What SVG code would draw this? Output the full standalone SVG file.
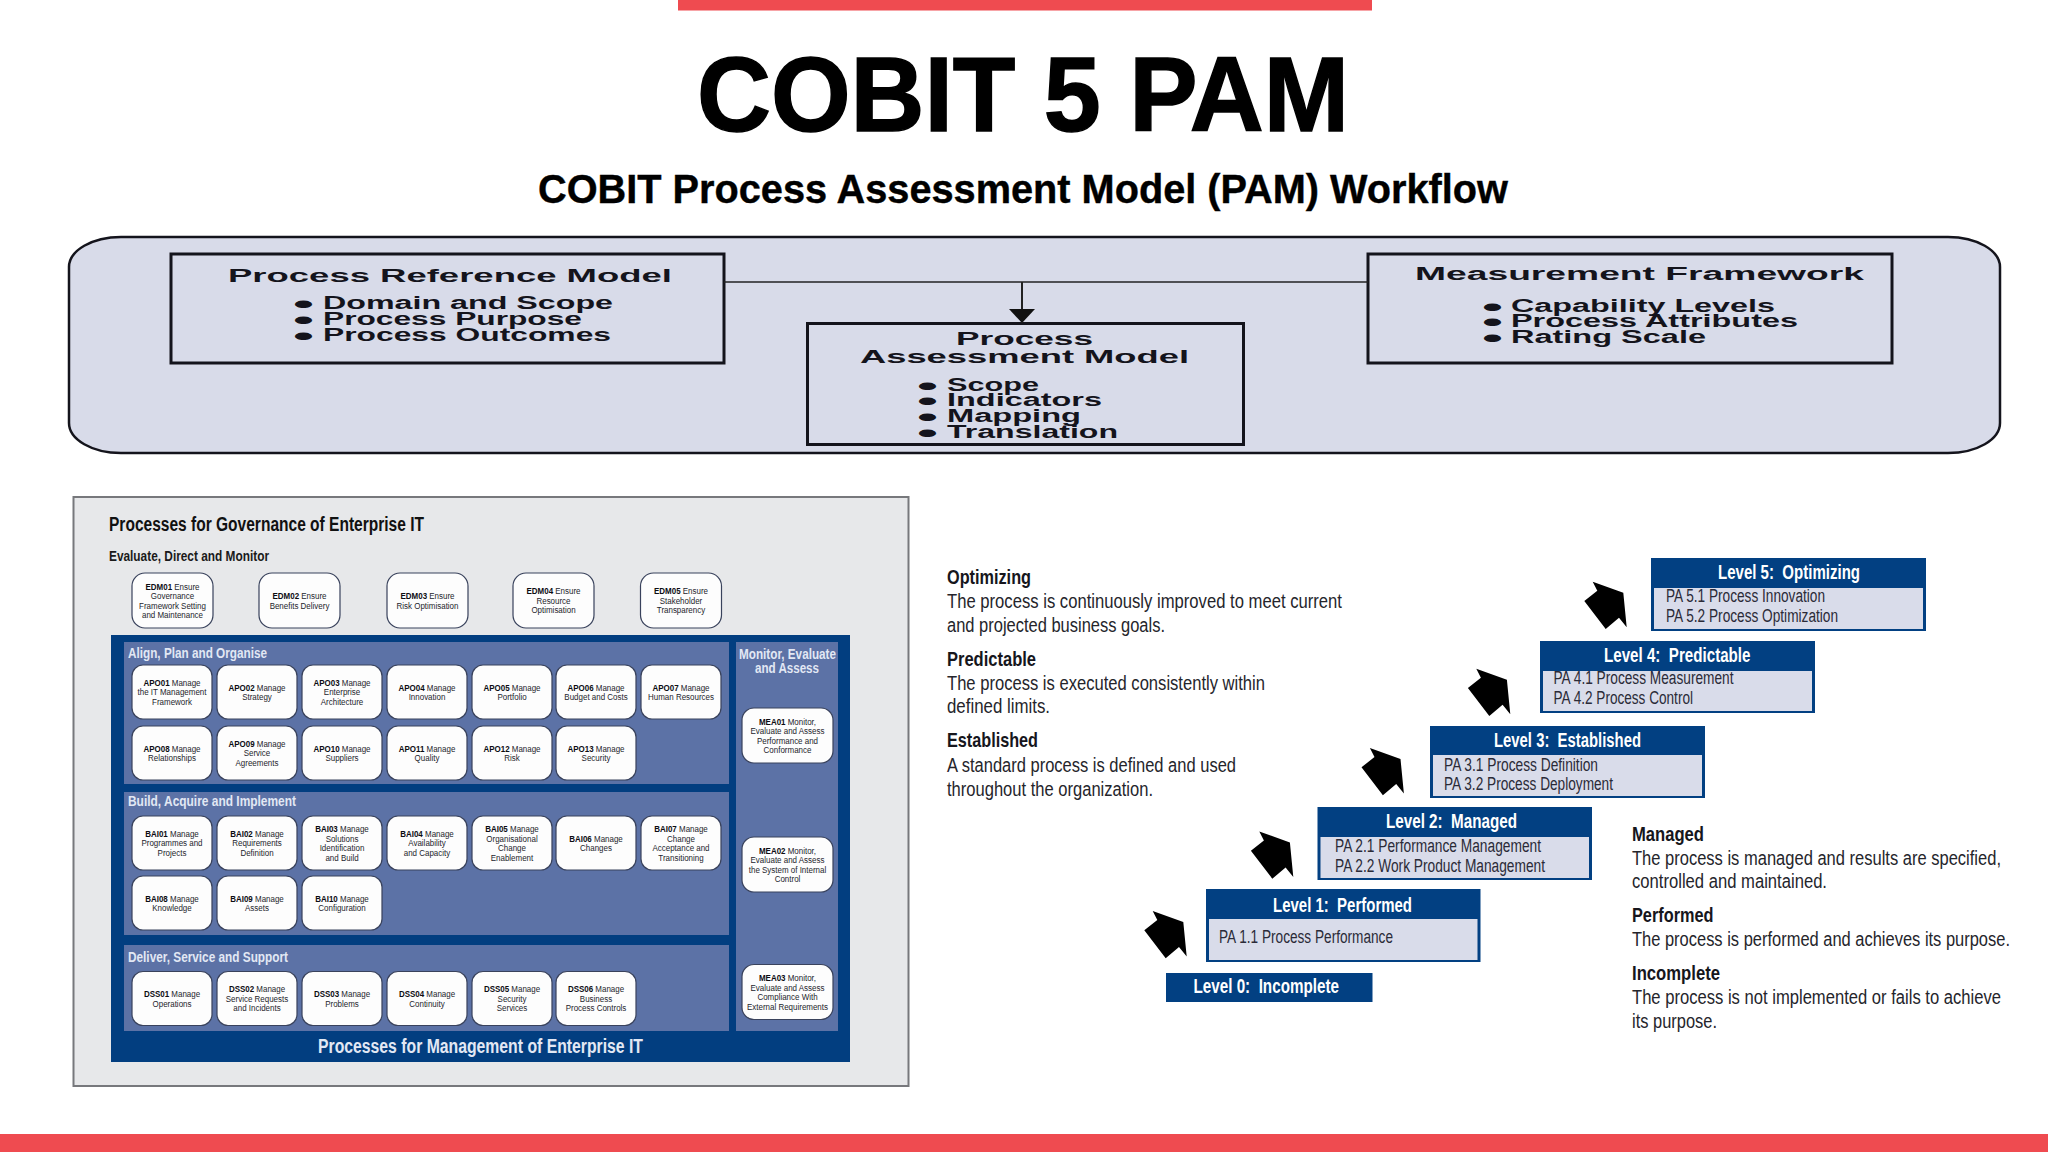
<svg xmlns="http://www.w3.org/2000/svg" width="2048" height="1152" viewBox="0 0 2048 1152">
<style>
text{font-family:"Liberation Sans",Arial,sans-serif}
.bar{fill:#ef4b50}
.h{font-weight:700;fill:#000;stroke:#000}
.m{font-weight:700;fill:#14141c;font-size:17.5px}
.bu{font-weight:700;fill:#14141c;font-size:26px}
.frame{fill:none;stroke:#14141c;stroke-width:3}
.card{fill:#fdfdfd;stroke:#39425c;stroke-width:1.2}
.s{font-size:9.6px;fill:#24252c;text-anchor:middle;transform:scaleX(.83)}
.s tspan.k{font-weight:700;fill:#0c0c12}
.sec{fill:#5c72a6}
.st{font-weight:700;fill:#e2e8f4}
.lv{fill:#024082}
.lvi{fill:#d9dcea}
.lt{font-weight:700;fill:#fff;font-size:19.5px}
.pa{fill:#2b2b38;font-size:18px}
.dh{font-weight:700;fill:#16161c;font-size:20.5px}
.db{fill:#25252b;font-size:20px}
</style>
<defs>
<marker id="ah" markerUnits="userSpaceOnUse" markerWidth="14" markerHeight="26" refX="14" refY="13" orient="auto" viewBox="0 0 14 26"><path d="M0 0L14 13L0 26Z" fill="#111"/></marker>
<polygon id="blk" points="0,0 30.6,11 34,45.6 26.3,36 13,47.3 -8.4,19.3 4.6,9" fill="#000"/>
</defs>
<rect width="2048" height="1152" fill="#fff"/>
<rect class="bar" x="678" y="0" width="694" height="10.5"/>
<rect class="bar" x="0" y="1134" width="2048" height="18"/>
<text class="h" x="697" y="130.5" font-size="106" stroke-width="1.5" textLength="652" lengthAdjust="spacingAndGlyphs">COBIT 5 PAM</text>
<text class="h" x="538" y="203" font-size="41" stroke-width=".4" textLength="970" lengthAdjust="spacingAndGlyphs">COBIT Process Assessment Model (PAM) Workflow</text>

<g id="model-panel"><rect x="69" y="237" width="1931" height="216" rx="52" ry="30" fill="#d8dbe9" stroke="#14141c" stroke-width="2.5"/></g>
<g id="process-reference-model">
<rect class="frame" x="171" y="254" width="553" height="109"/>
<text class="m" x="228" y="282" textLength="444" lengthAdjust="spacingAndGlyphs">Process Reference Model</text>
<text class="bu" x="293" y="313.3" textLength="21" lengthAdjust="spacingAndGlyphs">•</text><text class="m" x="323" y="309" textLength="290" lengthAdjust="spacingAndGlyphs">Domain and Scope</text>
<text class="bu" x="293" y="329.3" textLength="21" lengthAdjust="spacingAndGlyphs">•</text><text class="m" x="323" y="325" textLength="259" lengthAdjust="spacingAndGlyphs">Process Purpose</text>
<text class="bu" x="293" y="345.3" textLength="21" lengthAdjust="spacingAndGlyphs">•</text><text class="m" x="323" y="341" textLength="288" lengthAdjust="spacingAndGlyphs">Process Outcomes</text>
</g>
<g id="process-assessment-model">
<rect class="frame" x="807.5" y="323.5" width="436" height="121"/>
<text class="m" x="956" y="345" textLength="137" lengthAdjust="spacingAndGlyphs">Process</text>
<text class="m" x="860" y="363" textLength="329" lengthAdjust="spacingAndGlyphs">Assessment Model</text>
<text class="bu" x="917" y="395.3" textLength="21" lengthAdjust="spacingAndGlyphs">•</text><text class="m" x="947" y="391" textLength="92" lengthAdjust="spacingAndGlyphs">Scope</text>
<text class="bu" x="917" y="410.3" textLength="21" lengthAdjust="spacingAndGlyphs">•</text><text class="m" x="947" y="406" textLength="155" lengthAdjust="spacingAndGlyphs">Indicators</text>
<text class="bu" x="917" y="426.3" textLength="21" lengthAdjust="spacingAndGlyphs">•</text><text class="m" x="947" y="422" textLength="134" lengthAdjust="spacingAndGlyphs">Mapping</text>
<text class="bu" x="917" y="442.3" textLength="21" lengthAdjust="spacingAndGlyphs">•</text><text class="m" x="947" y="438" textLength="171" lengthAdjust="spacingAndGlyphs">Translation</text>
</g>
<g id="measurement-framework">
<rect class="frame" x="1368" y="254" width="524" height="109"/>
<text class="m" x="1415" y="280" textLength="449" lengthAdjust="spacingAndGlyphs">Measurement Framework</text>
<text class="bu" x="1482" y="316.3" textLength="21" lengthAdjust="spacingAndGlyphs">•</text><text class="m" x="1511" y="312" textLength="264" lengthAdjust="spacingAndGlyphs">Capability Levels</text>
<text class="bu" x="1482" y="331.3" textLength="21" lengthAdjust="spacingAndGlyphs">•</text><text class="m" x="1511" y="327" textLength="287" lengthAdjust="spacingAndGlyphs">Process Attributes</text>
<text class="bu" x="1482" y="347.3" textLength="21" lengthAdjust="spacingAndGlyphs">•</text><text class="m" x="1511" y="343" textLength="195" lengthAdjust="spacingAndGlyphs">Rating Scale</text>
</g>
<g id="connectors" fill="none" stroke="#222" stroke-width="1.5">
<path d="M724 282H1368"/>
<path d="M1022 282V323" stroke-width="2" marker-end="url(#ah)"/>
<use href="#blk" x="1592.7" y="581.7" stroke="none"/>
<use href="#blk" x="1476.3" y="668.7" stroke="none"/>
<use href="#blk" x="1369.9" y="748" stroke="none"/>
<use href="#blk" x="1259.3" y="831.4" stroke="none"/>
<use href="#blk" x="1152.7" y="911" stroke="none"/>
</g>

<g id="governance-panel">
<rect x="73.5" y="497" width="835" height="589" fill="#e7e8ea" stroke="#77787c" stroke-width="2"/>
<text x="109" y="531" font-size="20" font-weight="700" fill="#111" textLength="315" lengthAdjust="spacingAndGlyphs">Processes for Governance of Enterprise IT</text>
<text x="109" y="561" font-size="14.5" font-weight="700" fill="#1a1a1a" textLength="160" lengthAdjust="spacingAndGlyphs">Evaluate, Direct and Monitor</text>
<rect x="111" y="635" width="739" height="427" fill="#023e80"/>
<text class="st" x="318" y="1053" font-size="20" textLength="325" lengthAdjust="spacingAndGlyphs">Processes for Management of Enterprise IT</text>
</g>
<g id="align-plan-organise"><rect class="sec" x="124" y="642" width="605" height="142"/><text class="st" x="128" y="658" font-size="14" textLength="139" lengthAdjust="spacingAndGlyphs">Align, Plan and Organise</text></g>
<g id="build-acquire-implement"><rect class="sec" x="124" y="792" width="605" height="143"/><text class="st" x="128" y="806" font-size="14" textLength="168" lengthAdjust="spacingAndGlyphs">Build, Acquire and Implement</text></g>
<g id="deliver-service-support"><rect class="sec" x="124" y="945" width="605" height="86"/><text class="st" x="128" y="962" font-size="14" textLength="160" lengthAdjust="spacingAndGlyphs">Deliver, Service and Support</text></g>
<g id="monitor-evaluate-assess"><rect class="sec" x="736" y="642" width="102" height="389"/><text class="st" x="739" y="659" font-size="14.5" textLength="97" lengthAdjust="spacingAndGlyphs">Monitor, Evaluate</text><text class="st" x="755" y="673" font-size="14.5" textLength="64" lengthAdjust="spacingAndGlyphs">and Assess</text></g>

<g id="EDM01" transform="translate(172.5 600.5)"><rect class="card" x="-40.5" y="-27.5" width="81" height="55" rx="13"/><text class="s" y="-11"><tspan class="k">EDM01</tspan> Ensure</text><text class="s" y="-1.4">Governance</text><text class="s" y="8.2">Framework Setting</text><text class="s" y="17.8">and Maintenance</text></g>
<g id="EDM02" transform="translate(299.5 600.5)"><rect class="card" x="-40.5" y="-27.5" width="81" height="55" rx="13"/><text class="s" y="-1.4"><tspan class="k">EDM02</tspan> Ensure</text><text class="s" y="8.2">Benefits Delivery</text></g>
<g id="EDM03" transform="translate(427.5 600.5)"><rect class="card" x="-40.5" y="-27.5" width="81" height="55" rx="13"/><text class="s" y="-1.4"><tspan class="k">EDM03</tspan> Ensure</text><text class="s" y="8.2">Risk Optimisation</text></g>
<g id="EDM04" transform="translate(553.5 600.5)"><rect class="card" x="-40.5" y="-27.5" width="81" height="55" rx="13"/><text class="s" y="-6.2"><tspan class="k">EDM04</tspan> Ensure</text><text class="s" y="3.4">Resource</text><text class="s" y="13">Optimisation</text></g>
<g id="EDM05" transform="translate(681 600.5)"><rect class="card" x="-40.5" y="-27.5" width="81" height="55" rx="13"/><text class="s" y="-6.2"><tspan class="k">EDM05</tspan> Ensure</text><text class="s" y="3.4">Stakeholder</text><text class="s" y="13">Transparency</text></g>

<g id="APO01" transform="translate(172 692)"><rect class="card" x="-40" y="-27" width="80" height="54" rx="11"/><text class="s" y="-6.2"><tspan class="k">APO01</tspan> Manage</text><text class="s" y="3.4">the IT Management</text><text class="s" y="13">Framework</text></g>
<g id="APO02" transform="translate(257 692)"><rect class="card" x="-40" y="-27" width="80" height="54" rx="11"/><text class="s" y="-1.4"><tspan class="k">APO02</tspan> Manage</text><text class="s" y="8.2">Strategy</text></g>
<g id="APO03" transform="translate(342 692)"><rect class="card" x="-40" y="-27" width="80" height="54" rx="11"/><text class="s" y="-6.2"><tspan class="k">APO03</tspan> Manage</text><text class="s" y="3.4">Enterprise</text><text class="s" y="13">Architecture</text></g>
<g id="APO04" transform="translate(427 692)"><rect class="card" x="-40" y="-27" width="80" height="54" rx="11"/><text class="s" y="-1.4"><tspan class="k">APO04</tspan> Manage</text><text class="s" y="8.2">Innovation</text></g>
<g id="APO05" transform="translate(512 692)"><rect class="card" x="-40" y="-27" width="80" height="54" rx="11"/><text class="s" y="-1.4"><tspan class="k">APO05</tspan> Manage</text><text class="s" y="8.2">Portfolio</text></g>
<g id="APO06" transform="translate(596 692)"><rect class="card" x="-40" y="-27" width="80" height="54" rx="11"/><text class="s" y="-1.4"><tspan class="k">APO06</tspan> Manage</text><text class="s" y="8.2">Budget and Costs</text></g>
<g id="APO07" transform="translate(681 692)"><rect class="card" x="-40" y="-27" width="80" height="54" rx="11"/><text class="s" y="-1.4"><tspan class="k">APO07</tspan> Manage</text><text class="s" y="8.2">Human Resources</text></g>
<g id="APO08" transform="translate(172 753)"><rect class="card" x="-40" y="-27" width="80" height="54" rx="11"/><text class="s" y="-1.4"><tspan class="k">APO08</tspan> Manage</text><text class="s" y="8.2">Relationships</text></g>
<g id="APO09" transform="translate(257 753)"><rect class="card" x="-40" y="-27" width="80" height="54" rx="11"/><text class="s" y="-6.2"><tspan class="k">APO09</tspan> Manage</text><text class="s" y="3.4">Service</text><text class="s" y="13">Agreements</text></g>
<g id="APO10" transform="translate(342 753)"><rect class="card" x="-40" y="-27" width="80" height="54" rx="11"/><text class="s" y="-1.4"><tspan class="k">APO10</tspan> Manage</text><text class="s" y="8.2">Suppliers</text></g>
<g id="APO11" transform="translate(427 753)"><rect class="card" x="-40" y="-27" width="80" height="54" rx="11"/><text class="s" y="-1.4"><tspan class="k">APO11</tspan> Manage</text><text class="s" y="8.2">Quality</text></g>
<g id="APO12" transform="translate(512 753)"><rect class="card" x="-40" y="-27" width="80" height="54" rx="11"/><text class="s" y="-1.4"><tspan class="k">APO12</tspan> Manage</text><text class="s" y="8.2">Risk</text></g>
<g id="APO13" transform="translate(596 753)"><rect class="card" x="-40" y="-27" width="80" height="54" rx="11"/><text class="s" y="-1.4"><tspan class="k">APO13</tspan> Manage</text><text class="s" y="8.2">Security</text></g>

<g id="BAI01" transform="translate(172 843)"><rect class="card" x="-40" y="-27" width="80" height="54" rx="11"/><text class="s" y="-6.2"><tspan class="k">BAI01</tspan> Manage</text><text class="s" y="3.4">Programmes and</text><text class="s" y="13">Projects</text></g>
<g id="BAI02" transform="translate(257 843)"><rect class="card" x="-40" y="-27" width="80" height="54" rx="11"/><text class="s" y="-6.2"><tspan class="k">BAI02</tspan> Manage</text><text class="s" y="3.4">Requirements</text><text class="s" y="13">Definition</text></g>
<g id="BAI03" transform="translate(342 843)"><rect class="card" x="-40" y="-27" width="80" height="54" rx="11"/><text class="s" y="-11"><tspan class="k">BAI03</tspan> Manage</text><text class="s" y="-1.4">Solutions</text><text class="s" y="8.2">Identification</text><text class="s" y="17.8">and Build</text></g>
<g id="BAI04" transform="translate(427 843)"><rect class="card" x="-40" y="-27" width="80" height="54" rx="11"/><text class="s" y="-6.2"><tspan class="k">BAI04</tspan> Manage</text><text class="s" y="3.4">Availability</text><text class="s" y="13">and Capacity</text></g>
<g id="BAI05" transform="translate(512 843)"><rect class="card" x="-40" y="-27" width="80" height="54" rx="11"/><text class="s" y="-11"><tspan class="k">BAI05</tspan> Manage</text><text class="s" y="-1.4">Organisational</text><text class="s" y="8.2">Change</text><text class="s" y="17.8">Enablement</text></g>
<g id="BAI06" transform="translate(596 843)"><rect class="card" x="-40" y="-27" width="80" height="54" rx="11"/><text class="s" y="-1.4"><tspan class="k">BAI06</tspan> Manage</text><text class="s" y="8.2">Changes</text></g>
<g id="BAI07" transform="translate(681 843)"><rect class="card" x="-40" y="-27" width="80" height="54" rx="11"/><text class="s" y="-11"><tspan class="k">BAI07</tspan> Manage</text><text class="s" y="-1.4">Change</text><text class="s" y="8.2">Acceptance and</text><text class="s" y="17.8">Transitioning</text></g>
<g id="BAI08" transform="translate(172 903)"><rect class="card" x="-40" y="-27" width="80" height="54" rx="11"/><text class="s" y="-1.4"><tspan class="k">BAI08</tspan> Manage</text><text class="s" y="8.2">Knowledge</text></g>
<g id="BAI09" transform="translate(257 903)"><rect class="card" x="-40" y="-27" width="80" height="54" rx="11"/><text class="s" y="-1.4"><tspan class="k">BAI09</tspan> Manage</text><text class="s" y="8.2">Assets</text></g>
<g id="BAI10" transform="translate(342 903)"><rect class="card" x="-40" y="-27" width="80" height="54" rx="11"/><text class="s" y="-1.4"><tspan class="k">BAI10</tspan> Manage</text><text class="s" y="8.2">Configuration</text></g>

<g id="DSS01" transform="translate(172 998.5)"><rect class="card" x="-40" y="-27" width="80" height="54" rx="11"/><text class="s" y="-1.4"><tspan class="k">DSS01</tspan> Manage</text><text class="s" y="8.2">Operations</text></g>
<g id="DSS02" transform="translate(257 998.5)"><rect class="card" x="-40" y="-27" width="80" height="54" rx="11"/><text class="s" y="-6.2"><tspan class="k">DSS02</tspan> Manage</text><text class="s" y="3.4">Service Requests</text><text class="s" y="13">and Incidents</text></g>
<g id="DSS03" transform="translate(342 998.5)"><rect class="card" x="-40" y="-27" width="80" height="54" rx="11"/><text class="s" y="-1.4"><tspan class="k">DSS03</tspan> Manage</text><text class="s" y="8.2">Problems</text></g>
<g id="DSS04" transform="translate(427 998.5)"><rect class="card" x="-40" y="-27" width="80" height="54" rx="11"/><text class="s" y="-1.4"><tspan class="k">DSS04</tspan> Manage</text><text class="s" y="8.2">Continuity</text></g>
<g id="DSS05" transform="translate(512 998.5)"><rect class="card" x="-40" y="-27" width="80" height="54" rx="11"/><text class="s" y="-6.2"><tspan class="k">DSS05</tspan> Manage</text><text class="s" y="3.4">Security</text><text class="s" y="13">Services</text></g>
<g id="DSS06" transform="translate(596 998.5)"><rect class="card" x="-40" y="-27" width="80" height="54" rx="11"/><text class="s" y="-6.2"><tspan class="k">DSS06</tspan> Manage</text><text class="s" y="3.4">Business</text><text class="s" y="13">Process Controls</text></g>

<g id="MEA01" transform="translate(787.5 735.5)"><rect class="card" x="-45.5" y="-27.5" width="91" height="55" rx="12"/><text class="s" y="-11"><tspan class="k">MEA01</tspan> Monitor,</text><text class="s" y="-1.4">Evaluate and Assess</text><text class="s" y="8.2">Performance and</text><text class="s" y="17.8">Conformance</text></g>
<g id="MEA02" transform="translate(787.5 864.5)"><rect class="card" x="-45.5" y="-27.5" width="91" height="55" rx="12"/><text class="s" y="-11"><tspan class="k">MEA02</tspan> Monitor,</text><text class="s" y="-1.4">Evaluate and Assess</text><text class="s" y="8.2">the System of Internal</text><text class="s" y="17.8">Control</text></g>
<g id="MEA03" transform="translate(787.5 992)"><rect class="card" x="-45.5" y="-27.5" width="91" height="55" rx="12"/><text class="s" y="-11"><tspan class="k">MEA03</tspan> Monitor,</text><text class="s" y="-1.4">Evaluate and Assess</text><text class="s" y="8.2">Compliance With</text><text class="s" y="17.8">External Requirements</text></g>

<g id="level-5">
<rect class="lv" x="1651" y="558" width="275" height="73"/><rect class="lvi" x="1654" y="588" width="269" height="41"/>
<text class="lt" x="1718" y="579" textLength="142" lengthAdjust="spacingAndGlyphs" xml:space="preserve">Level 5:  Optimizing</text>
<text class="pa" x="1666" y="602" textLength="159" lengthAdjust="spacingAndGlyphs">PA 5.1 Process Innovation</text>
<text class="pa" x="1666" y="622" textLength="172" lengthAdjust="spacingAndGlyphs">PA 5.2 Process Optimization</text>
</g>
<g id="level-4">
<rect class="lv" x="1540" y="641" width="275" height="72"/><rect class="lvi" x="1543" y="671" width="269" height="40"/>
<text class="lt" x="1604" y="662" textLength="146.5" lengthAdjust="spacingAndGlyphs" xml:space="preserve">Level 4:  Predictable</text>
<text class="pa" x="1553.5" y="684" textLength="180" lengthAdjust="spacingAndGlyphs">PA 4.1 Process Measurement</text>
<text class="pa" x="1553.5" y="704" textLength="139.5" lengthAdjust="spacingAndGlyphs">PA 4.2 Process Control</text>
</g>
<g id="level-3">
<rect class="lv" x="1430" y="726" width="275" height="72"/><rect class="lvi" x="1433" y="755" width="269" height="41"/>
<text class="lt" x="1494" y="747" textLength="147" lengthAdjust="spacingAndGlyphs" xml:space="preserve">Level 3:  Established</text>
<text class="pa" x="1444" y="771" textLength="154" lengthAdjust="spacingAndGlyphs">PA 3.1 Process Definition</text>
<text class="pa" x="1444" y="790" textLength="169" lengthAdjust="spacingAndGlyphs">PA 3.2 Process Deployment</text>
</g>
<g id="level-2">
<rect class="lv" x="1317.5" y="807" width="274.5" height="73"/><rect class="lvi" x="1320.5" y="837" width="268.5" height="41"/>
<text class="lt" x="1386" y="828" textLength="131" lengthAdjust="spacingAndGlyphs" xml:space="preserve">Level 2:  Managed</text>
<text class="pa" x="1335" y="852" textLength="206" lengthAdjust="spacingAndGlyphs">PA 2.1 Performance Management</text>
<text class="pa" x="1335" y="872" textLength="210" lengthAdjust="spacingAndGlyphs">PA 2.2 Work Product Management</text>
</g>
<g id="level-1">
<rect class="lv" x="1206" y="889" width="274.5" height="73"/><rect class="lvi" x="1209" y="919" width="268.5" height="41"/>
<text class="lt" x="1273" y="912" textLength="139" lengthAdjust="spacingAndGlyphs" xml:space="preserve">Level 1:  Performed</text>
<text class="pa" x="1219" y="943" textLength="174" lengthAdjust="spacingAndGlyphs">PA 1.1 Process Performance</text>
</g>
<g id="level-0">
<rect class="lv" x="1166" y="973" width="206.5" height="29"/>
<text class="lt" x="1193.5" y="993" textLength="145.5" lengthAdjust="spacingAndGlyphs" xml:space="preserve">Level 0:  Incomplete</text>
</g>

<g id="descriptions-left">
<text class="dh" x="947" y="584" textLength="84" lengthAdjust="spacingAndGlyphs">Optimizing</text>
<text class="db" x="947" y="608" textLength="395" lengthAdjust="spacingAndGlyphs">The process is continuously improved to meet current</text>
<text class="db" x="947" y="632" textLength="218" lengthAdjust="spacingAndGlyphs">and projected business goals.</text>
<text class="dh" x="947" y="666" textLength="89" lengthAdjust="spacingAndGlyphs">Predictable</text>
<text class="db" x="947" y="690" textLength="318" lengthAdjust="spacingAndGlyphs">The process is executed consistently within</text>
<text class="db" x="947" y="713" textLength="103" lengthAdjust="spacingAndGlyphs">defined limits.</text>
<text class="dh" x="947" y="747" textLength="91" lengthAdjust="spacingAndGlyphs">Established</text>
<text class="db" x="947" y="772" textLength="289" lengthAdjust="spacingAndGlyphs">A standard process is defined and used</text>
<text class="db" x="947" y="796" textLength="206" lengthAdjust="spacingAndGlyphs">throughout the organization.</text>
</g>
<g id="descriptions-right">
<text class="dh" x="1632" y="841" textLength="72" lengthAdjust="spacingAndGlyphs">Managed</text>
<text class="db" x="1632" y="865" textLength="369" lengthAdjust="spacingAndGlyphs">The process is managed and results are specified,</text>
<text class="db" x="1632" y="888" textLength="195" lengthAdjust="spacingAndGlyphs">controlled and maintained.</text>
<text class="dh" x="1632" y="922" textLength="81.5" lengthAdjust="spacingAndGlyphs">Performed</text>
<text class="db" x="1632" y="946" textLength="378" lengthAdjust="spacingAndGlyphs">The process is performed and achieves its purpose.</text>
<text class="dh" x="1632" y="980" textLength="88" lengthAdjust="spacingAndGlyphs">Incomplete</text>
<text class="db" x="1632" y="1004" textLength="369" lengthAdjust="spacingAndGlyphs">The process is not implemented or fails to achieve</text>
<text class="db" x="1632" y="1028" textLength="85" lengthAdjust="spacingAndGlyphs">its purpose.</text>
</g>
</svg>
